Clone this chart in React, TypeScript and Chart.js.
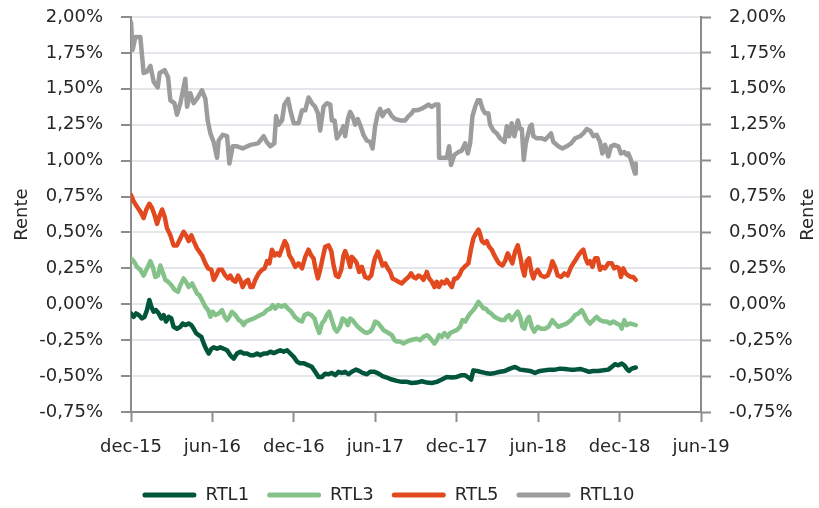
import React, { useEffect, useRef } from 'react';
import { Chart, registerables } from 'chart.js';

Chart.register(...registerables);

const FONT = '"DejaVu Sans", Verdana, sans-serif';

// x values are months elapsed since 1 Dec 2015
const xTickLabels = ['dec-15', 'jun-16', 'dec-16', 'jun-17', 'dec-17', 'jun-18', 'dec-18', 'jun-19'];
const seriesNames = ['RTL1', 'RTL3', 'RTL5', 'RTL10'];
const seriesColors = ['#00553A', '#84C28A', '#E2491F', '#9C9C9C'];
const axisTitle = 'Rente';

const rtl1Months = [0, 0.2, 0.37, 0.57, 0.81, 1.0, 1.18, 1.35, 1.5, 1.67, 1.84, 2.04, 2.24, 2.41, 2.58, 2.78, 2.97, 3.14, 3.39, 3.64, 3.81, 4.0, 4.25, 4.45, 4.62, 4.79, 4.99, 5.18, 5.36, 5.53, 5.72, 5.92, 6.09, 6.34, 6.58, 6.83, 7.08, 7.32, 7.57, 7.81, 8.06, 8.3, 8.55, 8.8, 9.04, 9.29, 9.53, 9.78, 10.02, 10.27, 10.52, 10.76, 11.0, 11.25, 11.5, 11.74, 11.99, 12.24, 12.45, 12.71, 13.08, 13.33, 13.57, 13.82, 14.07, 14.31, 14.56, 14.8, 15.05, 15.29, 15.54, 15.78, 16.03, 16.27, 16.57, 16.81, 17.06, 17.38, 17.62, 17.94, 18.24, 18.53, 18.85, 19.22, 19.59, 19.95, 20.33, 20.69, 21.06, 21.43, 21.8, 22.16, 22.53, 22.9, 23.27, 23.64, 24.0, 24.37, 24.62, 24.86, 25.06, 25.23, 25.48, 25.72, 26.09, 26.46, 26.83, 27.2, 27.56, 27.93, 28.3, 28.67, 29.04, 29.41, 29.77, 30.14, 30.51, 30.88, 31.25, 31.62, 31.98, 32.35, 32.72, 33.09, 33.45, 33.75, 34.07, 34.43, 34.81, 35.17, 35.42, 35.66, 35.91, 36.16, 36.35, 36.52, 36.69, 36.89, 37.19];
const rtl1Values = [-0.064, -0.087, -0.064, -0.075, -0.099, -0.087, -0.04, 0.03, -0.017, -0.052, -0.04, -0.064, -0.099, -0.075, -0.12, -0.087, -0.099, -0.157, -0.17, -0.157, -0.134, -0.145, -0.134, -0.145, -0.17, -0.2, -0.215, -0.227, -0.273, -0.31, -0.343, -0.31, -0.3, -0.31, -0.3, -0.31, -0.32, -0.355, -0.378, -0.343, -0.33, -0.343, -0.343, -0.355, -0.355, -0.343, -0.355, -0.343, -0.343, -0.33, -0.34, -0.33, -0.32, -0.33, -0.32, -0.343, -0.366, -0.4, -0.41, -0.41, -0.425, -0.436, -0.47, -0.506, -0.506, -0.483, -0.487, -0.478, -0.494, -0.47, -0.478, -0.47, -0.487, -0.47, -0.455, -0.464, -0.478, -0.487, -0.47, -0.47, -0.483, -0.5, -0.51, -0.524, -0.533, -0.54, -0.54, -0.548, -0.545, -0.536, -0.545, -0.548, -0.54, -0.524, -0.506, -0.51, -0.506, -0.494, -0.494, -0.51, -0.524, -0.46, -0.464, -0.47, -0.478, -0.483, -0.478, -0.47, -0.464, -0.448, -0.436, -0.455, -0.46, -0.464, -0.478, -0.464, -0.46, -0.455, -0.455, -0.448, -0.45, -0.455, -0.455, -0.45, -0.46, -0.47, -0.464, -0.464, -0.46, -0.455, -0.436, -0.417, -0.425, -0.413, -0.425, -0.448, -0.464, -0.448, -0.44];

const rtl3Months = [0, 0.2, 0.44, 0.69, 0.93, 1.18, 1.43, 1.6, 1.79, 1.99, 2.16, 2.33, 2.53, 2.73, 2.97, 3.22, 3.46, 3.64, 3.88, 4.05, 4.25, 4.5, 4.69, 4.86, 5.04, 5.23, 5.48, 5.68, 5.85, 6.02, 6.22, 6.46, 6.71, 6.9, 7.08, 7.25, 7.44, 7.69, 7.94, 8.13, 8.3, 8.48, 8.72, 9.04, 9.29, 9.53, 9.78, 10.02, 10.27, 10.44, 10.64, 10.84, 11.08, 11.33, 11.57, 11.82, 12.06, 12.35, 12.6, 12.79, 13.03, 13.28, 13.52, 13.7, 13.87, 14.07, 14.26, 14.43, 14.6, 14.8, 15.0, 15.17, 15.41, 15.59, 15.78, 15.98, 16.15, 16.32, 16.52, 16.71, 16.88, 17.13, 17.38, 17.62, 17.79, 17.99, 18.24, 18.43, 18.6, 18.78, 18.97, 19.22, 19.42, 19.59, 19.83, 20.08, 20.33, 20.57, 20.81, 21.06, 21.3, 21.55, 21.8, 21.97, 22.16, 22.36, 22.53, 22.7, 22.9, 23.1, 23.34, 23.52, 23.76, 24.0, 24.25, 24.42, 24.62, 24.82, 24.99, 25.23, 25.4, 25.6, 25.8, 25.97, 26.14, 26.33, 26.53, 26.78, 27.02, 27.27, 27.51, 27.69, 27.86, 28.05, 28.3, 28.5, 28.67, 28.84, 28.99, 29.16, 29.33, 29.53, 29.72, 29.97, 30.21, 30.51, 30.76, 31.05, 31.25, 31.49, 31.79, 32.1, 32.43, 32.72, 32.96, 33.21, 33.41, 33.58, 33.82, 34.07, 34.31, 34.56, 34.81, 35.05, 35.3, 35.54, 35.79, 36.04, 36.16, 36.35, 36.52, 36.77, 37.01, 37.19];
const rtl3Values = [0.32, 0.3, 0.26, 0.24, 0.2, 0.25, 0.3, 0.26, 0.19, 0.2, 0.27, 0.226, 0.17, 0.157, 0.134, 0.1, 0.087, 0.134, 0.18, 0.157, 0.12, 0.145, 0.11, 0.075, 0.064, 0.03, -0.017, -0.04, -0.087, -0.052, -0.075, -0.064, -0.04, -0.087, -0.11, -0.087, -0.052, -0.075, -0.11, -0.12, -0.145, -0.12, -0.11, -0.099, -0.087, -0.075, -0.064, -0.04, -0.03, -0.006, -0.03, -0.006, -0.017, -0.006, -0.03, -0.052, -0.087, -0.11, -0.12, -0.075, -0.064, -0.075, -0.099, -0.157, -0.2, -0.134, -0.11, -0.075, -0.052, -0.11, -0.17, -0.19, -0.157, -0.099, -0.11, -0.145, -0.099, -0.11, -0.134, -0.157, -0.17, -0.19, -0.2, -0.19, -0.17, -0.12, -0.134, -0.157, -0.18, -0.19, -0.2, -0.215, -0.25, -0.26, -0.26, -0.273, -0.26, -0.25, -0.245, -0.24, -0.25, -0.227, -0.215, -0.227, -0.25, -0.273, -0.25, -0.215, -0.227, -0.2, -0.227, -0.2, -0.19, -0.18, -0.157, -0.11, -0.12, -0.087, -0.064, -0.04, -0.017, 0.017, -0.006, -0.03, -0.03, -0.052, -0.064, -0.087, -0.099, -0.11, -0.11, -0.087, -0.075, -0.11, -0.075, -0.052, -0.087, -0.157, -0.17, -0.11, -0.087, -0.157, -0.19, -0.157, -0.17, -0.17, -0.157, -0.11, -0.134, -0.157, -0.145, -0.134, -0.11, -0.075, -0.064, -0.04, -0.075, -0.11, -0.134, -0.11, -0.087, -0.11, -0.12, -0.12, -0.134, -0.12, -0.134, -0.145, -0.17, -0.11, -0.145, -0.134, -0.14, -0.145];

const rtl5Months = [0, 0.2, 0.44, 0.69, 0.93, 1.13, 1.35, 1.55, 1.74, 1.92, 2.09, 2.29, 2.48, 2.65, 2.9, 3.14, 3.39, 3.64, 3.88, 4.05, 4.25, 4.45, 4.62, 4.86, 5.04, 5.23, 5.48, 5.68, 5.92, 6.09, 6.27, 6.46, 6.71, 6.95, 7.15, 7.32, 7.49, 7.69, 7.89, 8.06, 8.23, 8.43, 8.62, 8.8, 8.97, 9.16, 9.41, 9.66, 9.85, 10.02, 10.2, 10.39, 10.59, 10.76, 10.93, 11.13, 11.33, 11.5, 11.67, 11.87, 12.1, 12.35, 12.6, 12.84, 13.08, 13.28, 13.45, 13.57, 13.77, 13.94, 14.12, 14.31, 14.56, 14.76, 14.93, 15.1, 15.29, 15.49, 15.66, 15.78, 15.98, 16.15, 16.27, 16.47, 16.64, 16.81, 17.01, 17.25, 17.5, 17.7, 17.94, 18.19, 18.36, 18.53, 18.73, 18.92, 19.1, 19.27, 19.46, 19.71, 19.95, 20.2, 20.45, 20.64, 20.81, 20.99, 21.18, 21.38, 21.55, 21.8, 21.97, 22.16, 22.36, 22.53, 22.7, 22.9, 23.1, 23.27, 23.44, 23.64, 23.83, 24.0, 24.18, 24.37, 24.57, 24.86, 25.06, 25.23, 25.4, 25.6, 25.72, 25.85, 26.04, 26.21, 26.39, 26.58, 26.78, 26.95, 27.12, 27.37, 27.56, 27.76, 27.93, 28.1, 28.3, 28.5, 28.67, 28.84, 28.99, 29.16, 29.33, 29.53, 29.65, 29.77, 29.97, 30.21, 30.46, 30.7, 30.88, 31.05, 31.25, 31.44, 31.69, 31.93, 32.18, 32.43, 32.6, 32.77, 32.96, 33.16, 33.33, 33.5, 33.65, 33.82, 34.0, 34.19, 34.38, 34.56, 34.73, 34.93, 35.17, 35.42, 35.61, 35.79, 35.96, 36.1, 36.28, 36.45, 36.64, 36.84, 37.01, 37.19];
const rtl5Values = [0.76, 0.715, 0.68, 0.645, 0.6, 0.66, 0.7, 0.67, 0.62, 0.56, 0.61, 0.66, 0.61, 0.53, 0.48, 0.41, 0.41, 0.46, 0.505, 0.48, 0.44, 0.48, 0.44, 0.39, 0.366, 0.34, 0.285, 0.25, 0.24, 0.17, 0.2, 0.24, 0.24, 0.2, 0.18, 0.2, 0.17, 0.157, 0.2, 0.17, 0.12, 0.157, 0.17, 0.12, 0.12, 0.17, 0.215, 0.24, 0.25, 0.3, 0.285, 0.38, 0.34, 0.355, 0.34, 0.39, 0.44, 0.41, 0.34, 0.31, 0.26, 0.285, 0.25, 0.33, 0.38, 0.34, 0.32, 0.26, 0.18, 0.24, 0.32, 0.4, 0.41, 0.37, 0.27, 0.2, 0.19, 0.24, 0.34, 0.37, 0.32, 0.26, 0.33, 0.31, 0.285, 0.225, 0.26, 0.19, 0.18, 0.2, 0.31, 0.366, 0.32, 0.27, 0.285, 0.25, 0.225, 0.18, 0.17, 0.157, 0.145, 0.17, 0.19, 0.215, 0.19, 0.18, 0.2, 0.19, 0.17, 0.225, 0.18, 0.157, 0.12, 0.157, 0.12, 0.157, 0.145, 0.17, 0.145, 0.12, 0.18, 0.18, 0.2, 0.24, 0.26, 0.285, 0.39, 0.46, 0.49, 0.52, 0.49, 0.44, 0.425, 0.44, 0.4, 0.38, 0.34, 0.31, 0.285, 0.27, 0.3, 0.355, 0.32, 0.285, 0.366, 0.41, 0.34, 0.25, 0.2, 0.3, 0.32, 0.215, 0.18, 0.215, 0.24, 0.2, 0.19, 0.2, 0.24, 0.3, 0.26, 0.2, 0.19, 0.215, 0.2, 0.26, 0.285, 0.31, 0.34, 0.366, 0.38, 0.32, 0.285, 0.3, 0.26, 0.32, 0.32, 0.24, 0.26, 0.25, 0.285, 0.285, 0.25, 0.26, 0.25, 0.19, 0.25, 0.215, 0.2, 0.19, 0.19, 0.17];

const rtl10Months = [0, 0.12, 0.32, 0.69, 0.93, 1.18, 1.43, 1.67, 1.97, 2.11, 2.48, 2.73, 2.9, 3.2, 3.39, 3.64, 4.0, 4.13, 4.37, 4.62, 4.86, 5.23, 5.48, 5.65, 5.85, 6.09, 6.34, 6.46, 6.76, 7.08, 7.25, 7.49, 7.81, 8.23, 8.8, 9.36, 9.78, 10.0, 10.27, 10.56, 10.69, 10.88, 11.13, 11.3, 11.57, 11.74, 11.99, 12.35, 12.6, 12.84, 13.08, 13.33, 13.57, 13.77, 13.94, 14.19, 14.43, 14.68, 14.8, 15.0, 15.17, 15.41, 15.66, 15.78, 15.98, 16.15, 16.32, 16.52, 16.71, 16.88, 17.13, 17.38, 17.62, 17.8, 17.99, 18.19, 18.36, 18.53, 18.73, 18.97, 19.22, 19.46, 19.83, 20.2, 20.45, 20.69, 20.81, 21.06, 21.38, 21.67, 21.92, 22.16, 22.41, 22.65, 22.7, 23.02, 23.27, 23.44, 23.58, 23.83, 24.13, 24.37, 24.62, 24.82, 24.99, 25.16, 25.36, 25.55, 25.72, 25.9, 26.09, 26.33, 26.46, 26.7, 26.95, 27.2, 27.52, 27.69, 27.86, 28.05, 28.25, 28.5, 28.67, 28.8, 28.94, 29.09, 29.41, 29.53, 29.65, 29.9, 30.27, 30.51, 30.76, 30.95, 31.12, 31.49, 31.79, 32.1, 32.43, 32.72, 33.09, 33.33, 33.58, 33.82, 34.07, 34.31, 34.56, 34.73, 34.93, 35.17, 35.37, 35.61, 35.91, 36.1, 36.35, 36.52, 36.64, 36.84, 36.94, 37.14, 37.19];
const rtl10Values = [1.965, 1.77, 1.86, 1.86, 1.61, 1.62, 1.66, 1.55, 1.51, 1.61, 1.63, 1.58, 1.42, 1.4, 1.32, 1.4, 1.57, 1.375, 1.47, 1.4, 1.43, 1.49, 1.43, 1.28, 1.19, 1.13, 1.02, 1.14, 1.18, 1.17, 0.98, 1.1, 1.1, 1.085, 1.11, 1.12, 1.17, 1.13, 1.1, 1.12, 1.31, 1.25, 1.28, 1.39, 1.43, 1.35, 1.26, 1.26, 1.35, 1.35, 1.44, 1.4, 1.375, 1.33, 1.21, 1.375, 1.4, 1.39, 1.28, 1.28, 1.155, 1.19, 1.24, 1.17, 1.29, 1.34, 1.31, 1.25, 1.29, 1.25, 1.18, 1.14, 1.13, 1.085, 1.24, 1.33, 1.36, 1.31, 1.34, 1.35, 1.31, 1.29, 1.28, 1.28, 1.31, 1.33, 1.35, 1.35, 1.36, 1.375, 1.39, 1.375, 1.39, 1.39, 1.02, 1.02, 1.02, 1.1, 0.97, 1.04, 1.06, 1.07, 1.12, 1.05, 1.12, 1.31, 1.375, 1.42, 1.42, 1.36, 1.33, 1.33, 1.25, 1.21, 1.19, 1.155, 1.13, 1.24, 1.17, 1.26, 1.17, 1.28, 1.22, 1.22, 1.005, 1.12, 1.24, 1.25, 1.17, 1.155, 1.155, 1.145, 1.17, 1.19, 1.13, 1.1, 1.085, 1.1, 1.12, 1.155, 1.17, 1.19, 1.22, 1.21, 1.17, 1.18, 1.13, 1.05, 1.11, 1.03, 1.1, 1.11, 1.1, 1.05, 1.06, 1.04, 1.05, 1.005, 0.97, 0.91, 0.98];

const seriesMonths = [rtl1Months, rtl3Months, rtl5Months, rtl10Months];
const seriesValues = [rtl1Values, rtl3Values, rtl5Values, rtl10Values];

const AXIS_COLOR = '#8C8C8C';
const GRID_COLOR = '#E3E7EB';
const TEXT_COLOR = '#262626';

const fmtPct = (v: number) => v.toFixed(2).replace('.', ',') + '%';

const axisTitlesPlugin = {
  id: 'axisTitles',
  afterDraw(chart: any) {
    const { ctx, chartArea, scales } = chart;
    const cy = (chartArea.top + chartArea.bottom) / 2;
    ctx.save();
    ctx.font = `18px ${FONT}`;
    ctx.fillStyle = TEXT_COLOR;
    ctx.textAlign = 'center';
    ctx.textBaseline = 'middle';
    const xs = [scales.y.left + 22, scales.y2.right - 11];
    xs.forEach((x) => {
      ctx.save();
      ctx.translate(x, cy);
      ctx.rotate(-Math.PI / 2);
      ctx.fillText(axisTitle, 0, 0);
      ctx.restore();
    });
    ctx.restore();
  },
};

const legendShiftPlugin = {
  id: 'legendShift',
  afterLayout(chart: any) {
    const l = chart.legend;
    if (l) {
      l.top += 6;
      l.bottom += 6;
      l.left -= 21;
      l.right -= 21;
    }
  },
};

const fixVertical = (width: number) => (s: any) => {
  s.width = width;
  s.paddingTop = 0;
  s.paddingBottom = 0;
};

export default function App() {
  const ref = useRef<HTMLCanvasElement>(null);
  useEffect(() => {
    document.body.style.margin = '0';
    if (!ref.current) return;
    const datasets = seriesNames.map((name, i) => ({
      label: name,
      data: seriesMonths[i].map((m, j) => ({ x: m, y: seriesValues[i][j] })),
      borderColor: seriesColors[i],
      backgroundColor: seriesColors[i],
      borderWidth: 4.5,
      pointRadius: 0,
      borderJoinStyle: 'round' as const,
      borderCapStyle: 'round' as const,
      tension: 0,
      yAxisID: 'y',
    }));
    const yTicks = {
      stepSize: 0.25,
      padding: 18,
      color: TEXT_COLOR,
      font: { size: 18, family: FONT },
      callback: (v: any) => fmtPct(Number(v)),
    };
    const chart = new Chart(ref.current, {
      type: 'line',
      data: { datasets },
      plugins: [axisTitlesPlugin, legendShiftPlugin],
      options: {
        animation: false,
        responsive: false,
        layout: { padding: { top: 17, left: 0, right: 0, bottom: 0 } },
        font: { family: FONT },
        plugins: {
          tooltip: { enabled: false },
          legend: {
            position: 'bottom',
            align: 'center',
            labels: {
              boxWidth: 54,
              boxHeight: 5,
              padding: 18,
              useBorderRadius: true,
              borderRadius: 2.5,
              color: TEXT_COLOR,
              font: { size: 18, family: FONT },
              generateLabels: (c: any) =>
                c.data.datasets.map((ds: any, i: number) => ({
                  text: ds.label,
                  fillStyle: ds.borderColor,
                  strokeStyle: ds.borderColor,
                  lineWidth: 0,
                  hidden: false,
                  datasetIndex: i,
                  borderRadius: 2.5,
                  fontColor: TEXT_COLOR,
                })),
            },
          },
        },
        scales: {
          x: {
            type: 'linear',
            min: 0,
            max: 42,
            afterFit: (s: any) => {
              s.height = 50;
            },
            ticks: {
              stepSize: 6,
              autoSkip: false,
              maxRotation: 0,
              padding: 15,
              color: TEXT_COLOR,
              font: { size: 18, family: FONT },
              callback: (v: any) => xTickLabels[Math.round(Number(v) / 6)] ?? '',
            },
            grid: {
              drawOnChartArea: false,
              drawTicks: true,
              tickLength: 10,
              tickColor: AXIS_COLOR,
              tickWidth: 2,
            },
            border: { display: true, color: AXIS_COLOR, width: 2 },
          },
          y: {
            type: 'linear',
            position: 'left',
            min: -0.75,
            max: 2.0,
            afterFit: fixVertical(131),
            ticks: yTicks,
            grid: {
              color: (c: any) => (c.tick && c.tick.value <= -0.75 ? 'rgba(0,0,0,0)' : GRID_COLOR),
              lineWidth: 2,
              drawTicks: true,
              tickLength: 10,
              tickColor: AXIS_COLOR,
              tickWidth: 2,
            },
            border: { display: true, color: AXIS_COLOR, width: 2 },
          },
          y2: {
            type: 'linear',
            position: 'right',
            display: true,
            min: -0.75,
            max: 2.0,
            afterFit: fixVertical(118),
            ticks: yTicks,
            grid: {
              drawOnChartArea: false,
              drawTicks: true,
              tickLength: 10,
              tickColor: AXIS_COLOR,
              tickWidth: 2,
            },
            border: { display: true, color: AXIS_COLOR, width: 2 },
          },
        },
      } as any,
    });
    return () => chart.destroy();
  }, []);
  return (
    <div style={{ width: 819, height: 508 }}>
      <canvas ref={ref} width={819} height={508} style={{ display: 'block', width: 819, height: 508 }} />
    </div>
  );
}
